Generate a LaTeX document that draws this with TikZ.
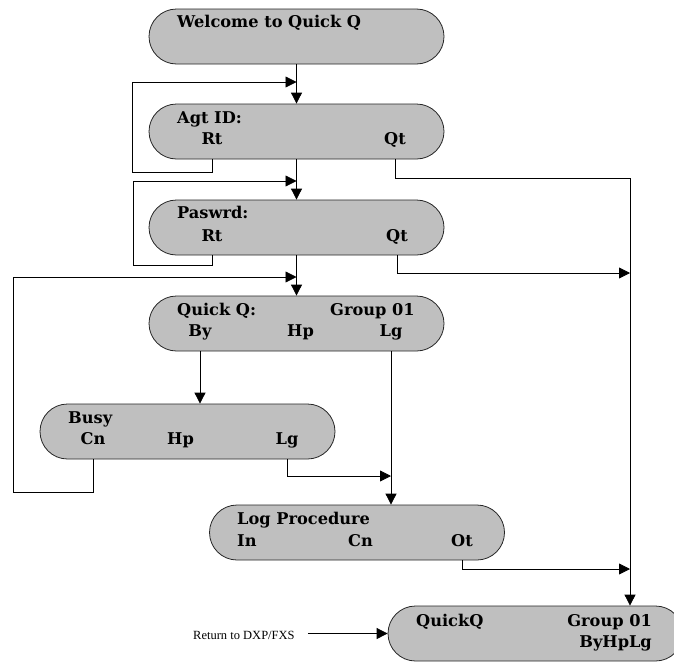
\documentclass[tikz,border=0pt]{standalone}
\usepackage{fontspec}
\setmainfont{DejaVu Serif}
\newfontfamily\retfont{Liberation Serif}
\usetikzlibrary{arrows.meta}
\definecolor{boxgray}{RGB}{191,191,191}
\begin{document}
\begin{tikzpicture}[x=1pt,y=-1pt]
    \tikzstyle{box}=[draw=black!85,fill=boxgray,line width=0.8pt,rounded corners=27.5pt,minimum width=295pt,minimum height=55pt,inner sep=0pt];
    \tikzstyle{txt}=[inner sep=0pt,font=\bfseries\fontsize{16.2}{19}\selectfont];
    \tikzstyle{line}=[line width=0.8pt];
    \tikzstyle{arr}=[-{Triangle[length=11pt,width=11pt]}];
    \useasboundingbox (0,0) rectangle (674,664);
    %boxes
    \node[box] (welcome) at (296.5,36.5) {};
    \node[box] (agt) at (296.5,131.5) {};
    \node[box] (pas) at (296.5,227.5) {};
    \node[box] (qq) at (296.5,323.5) {};
    \node[box] (busy) at (187.5,431.5) {};
    \node[box] (logp) at (357,532.5) {};
    \node[box] (fin) at (535.5,633.5) {};
    %texts
    \node[txt,anchor=base west] (welcomet) at (177,27) {Welcome to Quick Q};
    \node[txt,anchor=base west] (agtid) at (177,123) {Agt ID:};
    \node[txt,anchor=base] (agtrt) at (212,144) {Rt};
    \node[txt,anchor=base] (agtqt) at (395,144) {Qt};
    \node[txt,anchor=base west] (paswrd) at (177,218) {Paswrd:};
    \node[txt,anchor=base] (pasrt) at (212,241) {Rt};
    \node[txt,anchor=base] (pasqt) at (397,241) {Qt};
    \node[txt,anchor=base west] (qqname) at (177,315) {Quick Q:};
    \node[txt,anchor=base west] (qqgrp) at (330,315) {Group 01};
    \node[txt,anchor=base] (qqby) at (200,336) {By};
    \node[txt,anchor=base west] (qqhp) at (287,336) {Hp};
    \node[txt,anchor=base] (qqlg) at (391,336) {Lg};
    \node[txt,anchor=base west] (busyt) at (68,423) {Busy};
    \node[txt,anchor=base] (busycn) at (93,444) {Cn};
    \node[txt,anchor=base west] (busyhp) at (167,444) {Hp};
    \node[txt,anchor=base] (busylg) at (287,444) {Lg};
    \node[txt,anchor=base west] (logpt) at (237,524) {Log Procedure};
    \node[txt,anchor=base west] (login) at (237,546) {In};
    \node[txt,anchor=base west] (logcn) at (348,546) {Cn};
    \node[txt,anchor=base] (logot) at (462,546) {Ot};
    \node[txt,anchor=base west] (fint) at (416,626) {QuickQ};
    \node[txt,anchor=base east] (fingrp) at (652,626) {Group 01};
    \node[txt,anchor=base east] (finbhl) at (652,647) {ByHpLg};
    \node[inner sep=0pt,anchor=base west,font=\retfont\fontsize{12.5}{15}\selectfont] (ret) at (193,639) {Return to DXP/FXS};
    %bends
    \coordinate (l1) at (132,172);
    \coordinate (m1) at (296.5,82);
    \coordinate (l2) at (133,265);
    \coordinate (m2) at (296.5,181);
    \coordinate (l3) at (13,492);
    \coordinate (m3) at (296.5,277);
    \coordinate (m4) at (0,476);
    \coordinate (rail) at (630,178);
    \coordinate (j1) at (0,273);
    \coordinate (j2) at (0,569);
    %main line
    \draw[line,arr] (welcome) -- (agt);
    \draw[line,arr] (agt) -- (pas);
    \draw[line,arr] (pas) -- (qq);
    \draw[line,arr] (qqby |- qq.south) -- (qqby |- busy.north);
    \draw[line,arr] (qqlg |- qq.south) -- (qqlg |- logp.north);
    %retries
    \draw[line,arr] (agtrt |- agt.south) |- (l1) |- (m1);
    \draw[line,arr] (pasrt |- pas.south) |- (l2) |- (m2);
    \draw[line,arr] (busycn |- busy.south) |- (l3) |- (m3);
    \draw[line,arr] (busylg |- busy.south) |- (qqlg |- m4);
    %quits
    \draw[line] (agtqt |- agt.south) |- (rail);
    \draw[line,arr] (rail) -- (rail |- fin.north);
    \draw[line,arr] (pasqt |- pas.south) |- (rail |- j1);
    \draw[line,arr] (logot |- logp.south) |- (rail |- j2);
    \draw[line,arr,shorten <=13pt] (ret.east |- fin.west) -- (fin.west);
  \end{tikzpicture}
\end{document}
